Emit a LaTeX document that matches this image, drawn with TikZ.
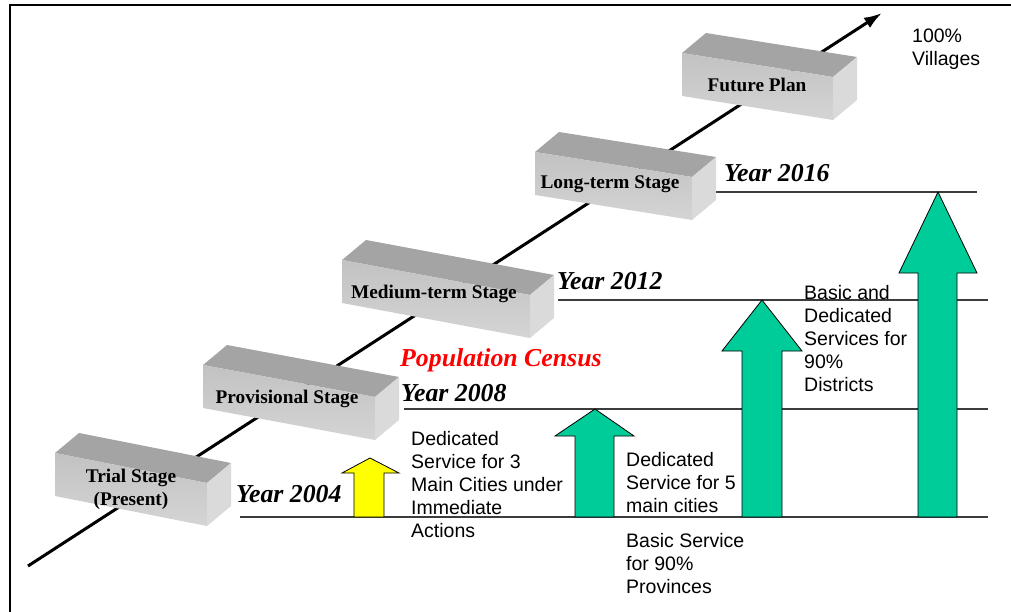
\documentclass[tikz,border=0pt]{standalone}
\usepackage{fontspec}
\setmainfont{Liberation Serif}
\setsansfont{Liberation Sans}
\usetikzlibrary{arrows.meta}

\definecolor{boxtop}{RGB}{164,164,164}
\definecolor{boxfrontA}{RGB}{194,194,194}
\definecolor{boxfrontB}{RGB}{212,212,212}
\definecolor{boxside}{RGB}{218,218,218}
\definecolor{stepgreen}{RGB}{0,204,153}
\definecolor{stepyellow}{RGB}{255,255,0}
\definecolor{guide}{RGB}{60,60,60}

% 3D stage block: #1,#2 = front top-left corner, #3 = front width, #4 = drop of the top edge
\newcommand\stageblock[4]{%
  \fill[boxtop] (#1,#2) -- ++(24,-20) -- ++(#3,#4) -- ++(-24,20) -- cycle;
  \shade[top color=boxfrontA, bottom color=boxfrontB]
    (#1,#2) -- ++(#3,#4) -- ++(0,43) -- ++(-#3,-#4) -- cycle;
  \fill[boxside] (#1,#2) ++(#3,#4) -- ++(24,-20) -- ++(0,43) -- ++(-24,20) -- cycle;
}

\tikzset{
  stagelabel/.style={font=\fontsize{19.3}{23}\selectfont\bfseries, align=center, inner sep=0pt},
  yearlabel/.style={font=\fontsize{25.8}{30}\selectfont\bfseries\itshape, anchor=west, inner sep=0pt},
  note/.style={font=\sffamily\fontsize{19.5}{23}\selectfont, align=left, anchor=north west, inner sep=0pt},
  guideline/.style={draw=guide, line width=1.3pt},
  steparrow/.style={draw=black, line width=0.8pt, line join=miter},
}

\begin{document}
\begin{tikzpicture}[x=1pt, y=-1pt]
\useasboundingbox (0,0) rectangle (1011,612);

% frame
\draw[line width=2pt] (10,612) -- (10,5.5) -- (1011,5.5);

% horizontal level lines
\coordinate (l16a) at (712,192); \coordinate (l16b) at (977,192);
\coordinate (l12a) at (558,300); \coordinate (l12b) at (988,300);
\coordinate (l08a) at (404,409); \coordinate (l08b) at (988,409);
\coordinate (l04a) at (240,517); \coordinate (l04b) at (988,517);
\draw[guideline] (l16a) -- (l16b);
\draw[guideline] (l12a) -- (l12b);
\draw[guideline] (l08a) -- (l08b);
\draw[guideline] (l04a) -- (l04b);

% time axis
\coordinate (axisstart) at (28,566);
\coordinate (axisend) at (882,13);
\draw[line width=3pt, -{Latex[length=18pt,width=12pt]}] (axisstart) -- (axisend);

% stage blocks
\stageblock{55}{453}{152}{30}
\stageblock{203}{365}{172}{32}
\stageblock{342}{260}{188}{35}
\stageblock{535}{152}{157}{25}
\stageblock{682}{53}{151}{24}

\node[stagelabel] (trial) at (131,489) {Trial Stage\\(Present)};
\node[stagelabel] (provisional) at (287,399) {Provisional Stage};
\node[stagelabel] (medium) at (434,294) {Medium-term Stage};
\node[stagelabel] (longterm) at (610,184) {Long-term Stage};
\node[stagelabel] (future) at (757,85) {Future Plan};

% years
\node[yearlabel] (y2004) at (236,494) {Year 2004};
\node[yearlabel] (y2008) at (401,393) {Year 2008};
\node[yearlabel, text=red] (census) at (400,360) {Population Census};
\node[yearlabel] (y2012) at (557,281) {Year 2012};
\node[yearlabel] (y2016) at (724,173) {Year 2016};

% growth arrows
\filldraw[steparrow, fill=stepyellow]
  (370,458) -- (399,473) -- (384,473) -- (384,517) -- (354,517) -- (354,473) -- (342,473) -- cycle;
\filldraw[steparrow, fill=stepgreen]
  (595,409) -- (634,436) -- (614,436) -- (614,517) -- (575,517) -- (575,436) -- (555,436) -- cycle;
\filldraw[steparrow, fill=stepgreen]
  (762,300) -- (802,351) -- (782,351) -- (782,517) -- (742,517) -- (742,351) -- (722,351) -- cycle;
\filldraw[steparrow, fill=stepgreen]
  (938,192) -- (977,273) -- (957,273) -- (957,517) -- (918,517) -- (918,273) -- (899,273) -- cycle;

% service descriptions
\node[note] (cities3) at (411,431) {Dedicated\\Service for 3\\Main Cities under\\Immediate\\Actions};
\node[note] (cities5) at (626,452) {Dedicated\\Service for 5\\main cities};
\node[note] (provinces) at (626,533) {Basic Service\\for 90\%\\Provinces};
\node[note] (districts) at (804,285) {Basic and\\Dedicated\\Services for\\90\%\\Districts};
\node[note] (villages) at (912,29) {100\%\\Villages};
\end{tikzpicture}
\end{document}
